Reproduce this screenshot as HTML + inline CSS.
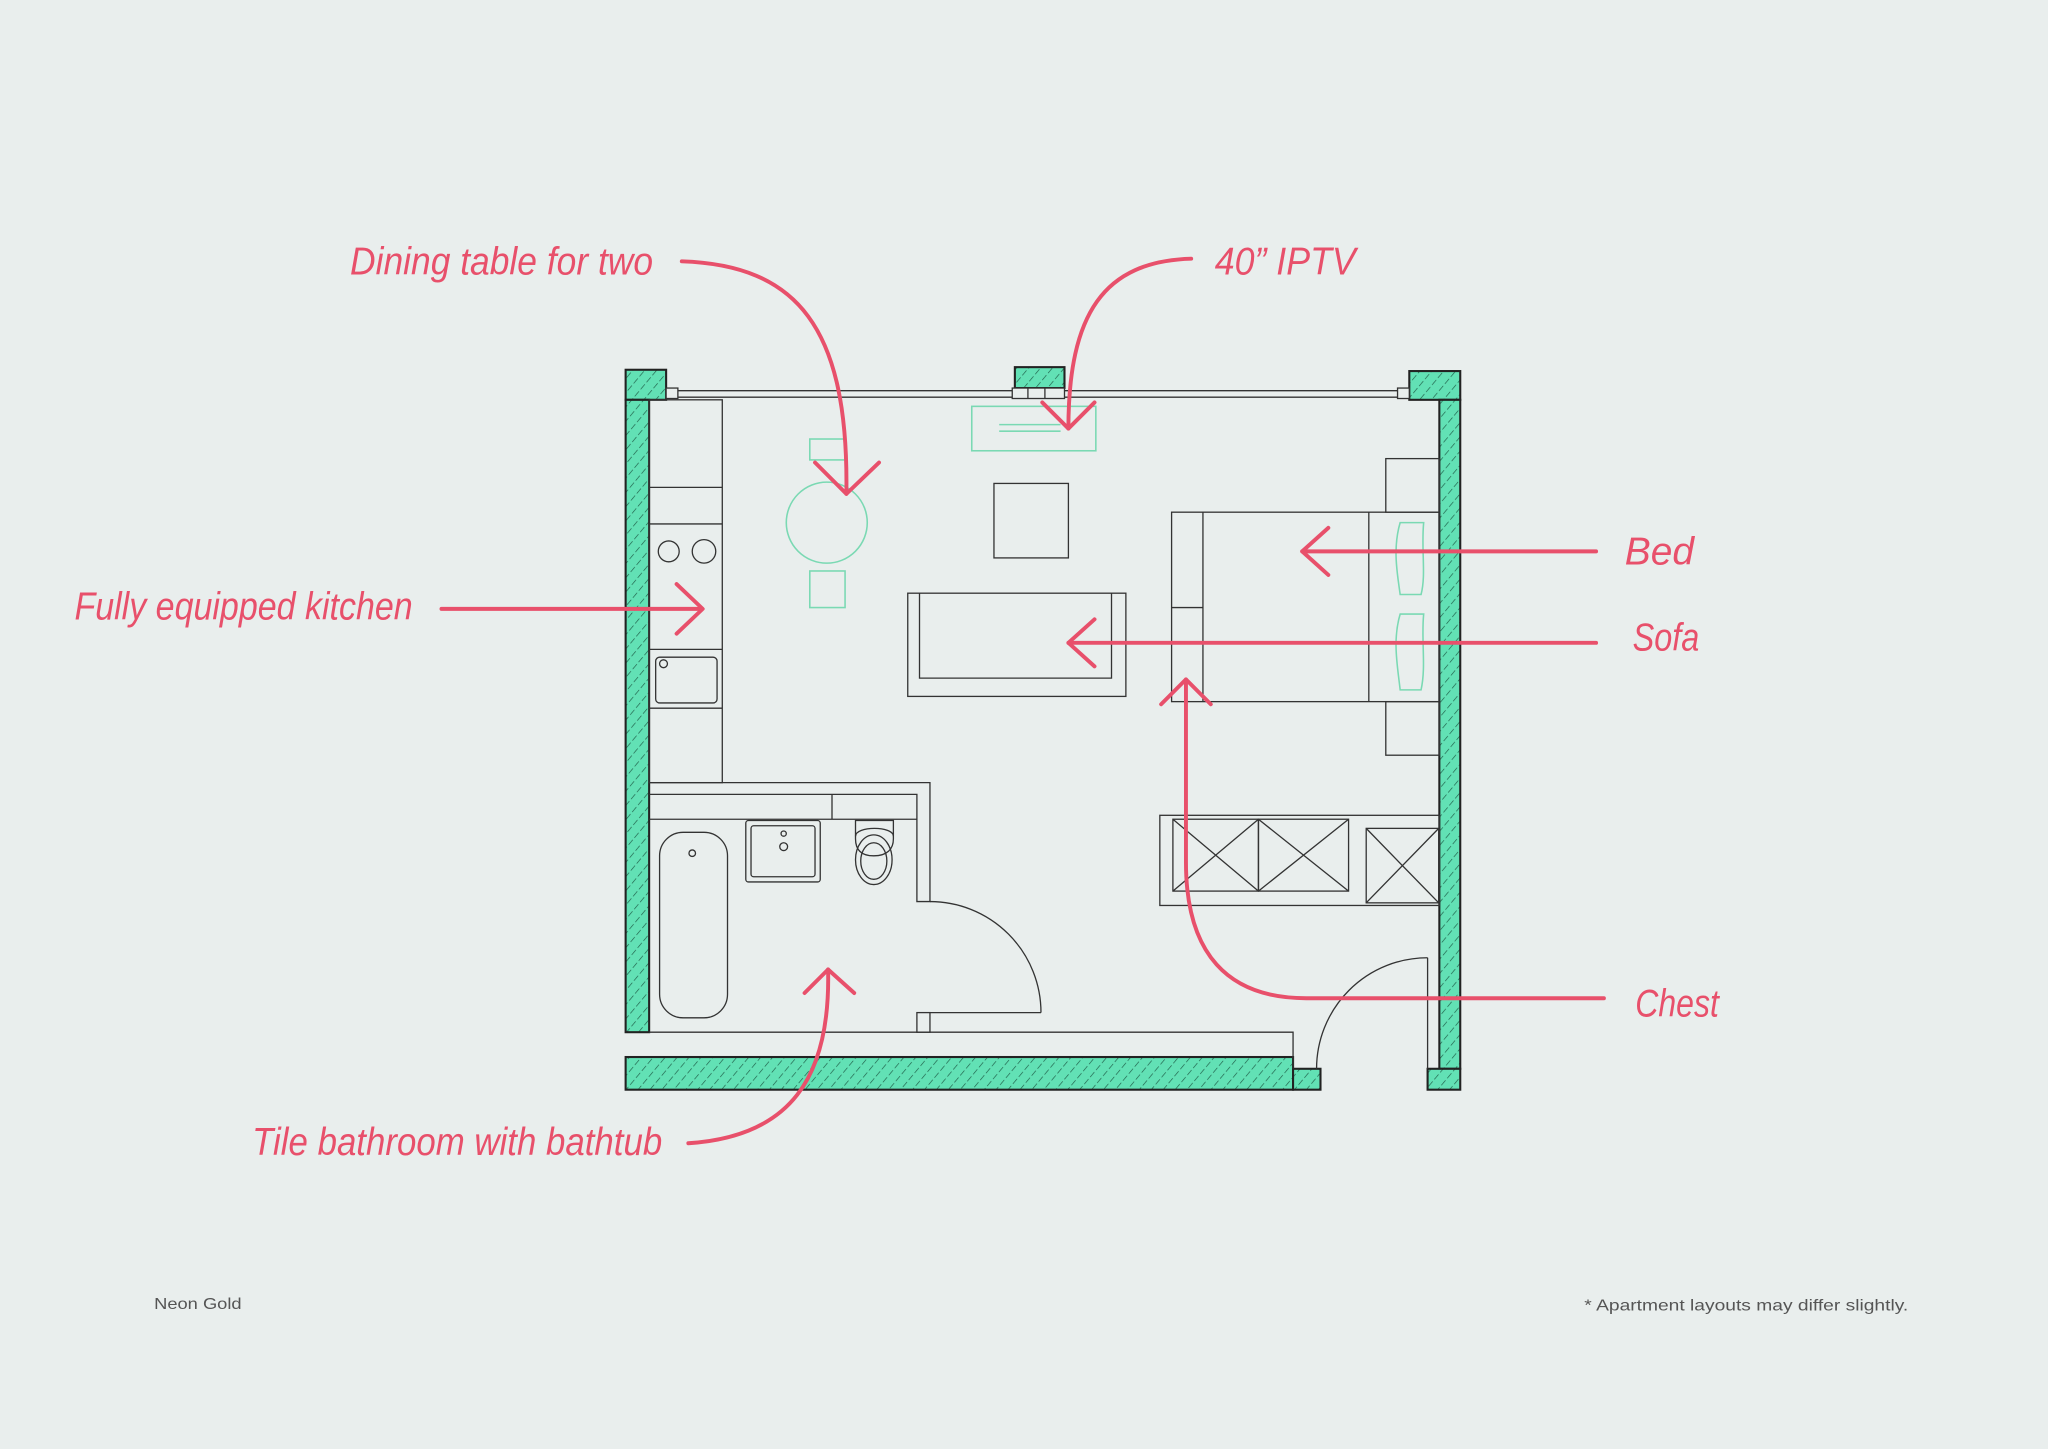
<!DOCTYPE html>
<html><head><meta charset="utf-8"><style>
html,body{margin:0;padding:0;background:#e9eeed;}
svg{display:block;}
.t{font-family:"Liberation Sans",sans-serif;font-style:italic;fill:#e8506b;font-size:30px;}
.s{font-family:"Liberation Sans",sans-serif;fill:#555;font-size:12px;}
</style></head><body>
<svg width="2048" height="1449" viewBox="0 0 1568 1109" preserveAspectRatio="none" xmlns="http://www.w3.org/2000/svg">
<defs>
<pattern id="h" width="7" height="7" patternUnits="userSpaceOnUse" patternTransform="rotate(40)">
<rect width="7" height="7" fill="#62e1b5"/>
<line x1="0" y1="0" x2="0" y2="7" stroke="#1f5e48" stroke-width="1" stroke-dasharray="4 2"/>
</pattern>
</defs>
<rect width="1568" height="1109" fill="#e9eeed"/>
<g stroke="#222" stroke-width="1.6">
<rect x="479" y="283" width="31" height="23" fill="url(#h)"/>
<rect x="479" y="306" width="18" height="484" fill="url(#h)"/>
<rect x="777" y="281" width="38" height="16" fill="url(#h)"/>
<rect x="1079" y="284" width="39" height="22" fill="url(#h)"/>
<rect x="1102" y="306" width="16" height="512" fill="url(#h)"/>
<rect x="1093" y="818" width="25" height="16" fill="url(#h)"/>
<rect x="479" y="809" width="511" height="25" fill="url(#h)"/>
<rect x="990" y="818" width="21" height="16" fill="url(#h)"/>
</g>
<g stroke="#333" stroke-width="1" fill="none">
<line x1="516" y1="299" x2="1072" y2="299"/>
<line x1="516" y1="304" x2="1072" y2="304"/>
<rect x="510" y="297" width="9" height="8" fill="#e9eeed"/>
<rect x="1070" y="297" width="9" height="8" fill="#e9eeed"/>
<rect x="775" y="297" width="40" height="8" fill="#e9eeed"/>
<line x1="787" y1="297" x2="787" y2="305"/><line x1="800" y1="297" x2="800" y2="305"/>
<polyline points="497,790 990,790 990,818"/>
<rect x="497" y="306" width="56" height="293"/>
<line x1="497" y1="373" x2="553" y2="373"/>
<line x1="497" y1="401" x2="553" y2="401"/>
<line x1="497" y1="497" x2="553" y2="497"/>
<line x1="497" y1="542" x2="553" y2="542"/>
<circle cx="512" cy="422" r="8"/><circle cx="539" cy="422" r="9"/>
<rect x="502" y="503" width="47" height="35" rx="3"/>
<circle cx="508" cy="508" r="3"/>
<polyline points="497,599 712,599 712,690 702,690 702,608 497,608"/>
<line x1="497" y1="627" x2="702" y2="627"/>
<line x1="637" y1="608" x2="637" y2="627"/>
<rect x="702" y="775" width="10" height="15"/>
<rect x="505" y="637" width="52" height="142" rx="18"/>
<circle cx="530" cy="653" r="2.5"/>
<rect x="571" y="628" width="57" height="47" rx="2"/>
<rect x="575" y="632" width="49" height="39" rx="2"/>
<circle cx="600" cy="638" r="2"/><circle cx="600" cy="648" r="3"/>
<path d="M655,628 L684,628 L684,642 C684,650 679,655 669,655 C659,655 655,650 655,642 Z"/>
<path d="M655,640 C655,632 684,632 684,640"/>
<ellipse cx="669" cy="658" rx="14" ry="19"/>
<ellipse cx="669" cy="659" rx="10" ry="14"/>
<path d="M712,690 A85,85 0 0 1 797,775"/>
<line x1="712" y1="775" x2="797" y2="775"/>
<rect x="761" y="370" width="57" height="57"/>
<rect x="695" y="454" width="167" height="79"/>
<polyline points="704,454 704,519 851,519 851,454"/>
<rect x="897" y="392" width="205" height="145"/>
<line x1="921" y1="392" x2="921" y2="537"/>
<line x1="897" y1="465" x2="921" y2="465"/>
<line x1="1048" y1="392" x2="1048" y2="537"/>
<rect x="1061" y="351" width="41" height="41"/>
<rect x="1061" y="537" width="41" height="41"/>
<rect x="888" y="624" width="214" height="69"/>
<rect x="898" y="627" width="65.5" height="55"/>
<rect x="963.5" y="627" width="69" height="55"/>
<rect x="1046" y="634" width="55.5" height="57"/>
<path d="M898,627 L963.5,682 M963.5,627 L898,682 M963.5,627 L1032.5,682 M1032.5,627 L963.5,682 M1046,634 L1101.5,691 M1101.5,634 L1046,691"/>
<line x1="1093" y1="733" x2="1093" y2="818"/>
<path d="M1093,733 A85,85 0 0 0 1008,818"/>
</g>
<g stroke="#7ad9b3" stroke-width="1.2" fill="none">
<rect x="744" y="311" width="95" height="34"/>
<line x1="765" y1="325" x2="812" y2="325"/><line x1="765" y1="330" x2="812" y2="330"/>
<circle cx="633" cy="400" r="31"/>
<rect x="620" y="336" width="27" height="16"/>
<rect x="620" y="437" width="27" height="28"/>
<path d="M1072,400 C1066,420 1070,440 1072,455 L1088,455 C1092,440 1088,420 1090,400 Z"/>
<path d="M1072,470 C1066,490 1070,510 1072,528 L1088,528 C1092,510 1088,490 1090,470 Z"/>
</g>
<g stroke="#e8506b" stroke-width="3" fill="none" stroke-linecap="round" stroke-linejoin="round">
<path d="M522,200 C610,203 650,250 648,378"/>
<polyline points="624,354 648,378 673,354"/>
<path d="M912,198 C845,200 818,240 818,328"/>
<polyline points="798,308 818,328 838,308"/>
<path d="M338,466 L537,466"/>
<polyline points="518,447 538,466 518,485"/>
<path d="M1222,422 L997,422"/>
<polyline points="1017,404 997,422 1017,440"/>
<path d="M1222,492 L818,492"/>
<polyline points="838,474 818,492 838,510"/>
<path d="M1228,764 L1000,764 C940,764 908,730 908,660 L908,520"/>
<polyline points="889,539 908,520 927,539"/>
<path d="M527,875 C605,870 636,825 634,742"/>
<polyline points="616,760 634,742 654,760"/>
</g>
<text class="t" x="268" y="210" textLength="232" lengthAdjust="spacingAndGlyphs">Dining table for two</text>
<text class="t" x="930" y="210" textLength="108" lengthAdjust="spacingAndGlyphs">40” IPTV</text>
<text class="t" x="57" y="474" textLength="259" lengthAdjust="spacingAndGlyphs">Fully equipped kitchen</text>
<text class="t" x="1244" y="432" textLength="53" lengthAdjust="spacingAndGlyphs">Bed</text>
<text class="t" x="1250" y="498" textLength="51" lengthAdjust="spacingAndGlyphs">Sofa</text>
<text class="t" x="1252" y="778" textLength="64" lengthAdjust="spacingAndGlyphs">Chest</text>
<text class="t" x="193" y="884" textLength="314" lengthAdjust="spacingAndGlyphs">Tile bathroom with bathtub</text>
<text class="s" x="118" y="1002" textLength="67" lengthAdjust="spacingAndGlyphs">Neon Gold</text>
<text class="s" x="1213" y="1003" textLength="248" lengthAdjust="spacingAndGlyphs">* Apartment layouts may differ slightly.</text>
</svg>
</body></html>
